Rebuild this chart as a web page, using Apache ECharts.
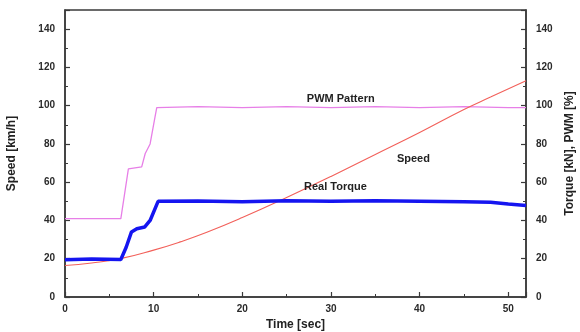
<!DOCTYPE html>
<html>
<head>
<meta charset="utf-8">
<script src="https://cdn.jsdelivr.net/npm/echarts@6/dist/echarts.min.js"></script>
<style>html,body{margin:0;padding:0;background:#fff}#c{width:580px;height:332px}</style>
</head>
<body>
<div id="c"></div>
<script>
// ---- data ----
const pwmTime   = [0, 6.3, 6.4, 7.15, 8.65, 9.05, 9.6, 10.15, 10.35, 15, 20, 25, 30, 35, 40, 45, 50, 52];
const pwmValue  = [41, 41, 42, 67, 68, 75, 80, 94, 99, 99.5, 99, 99.5, 99, 99.5, 99, 99.5, 99, 99];

const torqueTime  = [0, 3, 6.3, 6.9, 7.5, 8.1, 9.0, 9.6, 10.5, 15, 20, 25, 30, 35, 40, 45, 48, 50, 52];
const torqueValue = [19.5, 19.8, 19.6, 26, 34, 35.7, 36.6, 40, 50, 50.2, 49.8, 50.3, 50, 50.3, 50.1, 49.8, 49.5, 48.6, 47.8];

const speedTime  = [0, 3, 6.5, 10, 13, 16, 20, 25, 30, 35, 40, 45, 48, 52];
const speedValue = [16.5, 17.8, 20.3, 24.5, 28.8, 33.8, 41.5, 52, 63, 74.5, 86, 98, 104.5, 113];

const xTicks = [0, 10, 20, 30, 40, 50];
const yTicks = [0, 20, 40, 60, 80, 100, 120, 140];

const seriesNames = ['PWM Pattern', 'Speed', 'Real Torque'];
const xName = 'Time [sec]';
const yLeftName = 'Speed [km/h]';
const yRightName = 'Torque [kN], PWM [%]';

function pairs(t, v) { return t.map((x, i) => [x, v[i]]); }

const font = 'Liberation Sans, Arial, sans-serif';
const axisColor = '#3a3a3a';
const textStyle = { color: '#2a2a2a', fontFamily: font, fontWeight: 'bold', fontSize: 10 };

function yAxis(pos, name) {
  return {
    type: 'value', position: pos, min: 0, max: 150, interval: 20,
    name: name, nameLocation: 'middle', nameGap: pos === 'left' ? 47 : 36,
    nameRotate: 90,
    nameTextStyle: { color: '#222', fontFamily: font, fontWeight: 'bold', fontSize: 12 },
    axisLine: { show: true, lineStyle: { color: axisColor, width: 1.5 } },
    axisTick: { show: true, inside: true, length: 5, lineStyle: { color: axisColor, width: 1.2 } },
    minorTick: { show: true, splitNumber: 2, length: 3, lineStyle: { color: axisColor } },
    axisLabel: Object.assign({ margin: 10, showMaxLabel: false,
      formatter: v => yTicks.includes(v) ? String(v) : '' }, textStyle),
    splitLine: { show: false }
  };
}

const labelStyle = { show: true, position: 'inside', color: '#222', fontFamily: font, fontWeight: 'bold', fontSize: 11,
  formatter: p => p.name };

const option = {
  animation: false,
  backgroundColor: '#fff',
  grid: { left: 65, right: 54, top: 10, bottom: 35, show: true, borderColor: axisColor, borderWidth: 1.5,
    containLabel: false, outerBoundsMode: 'none' },
  xAxis: {
    type: 'value', min: 0, max: 52, interval: 10,
    name: xName, nameLocation: 'middle', nameGap: 21,
    nameTextStyle: { color: '#222', fontFamily: font, fontWeight: 'bold', fontSize: 12 },
    axisLine: { show: true, lineStyle: { color: axisColor, width: 1.5 } },
    axisTick: { show: true, inside: true, length: 5, lineStyle: { color: axisColor, width: 1.2 } },
    minorTick: { show: true, splitNumber: 2, length: 3, lineStyle: { color: axisColor } },
    axisLabel: Object.assign({ margin: 7, showMaxLabel: false,
      formatter: v => xTicks.includes(v) ? String(v) : '' }, textStyle),
    splitLine: { show: false }
  },
  yAxis: [yAxis('left', yLeftName), yAxis('right', yRightName)],
  series: [
    {
      name: seriesNames[0], type: 'line', yAxisIndex: 1, data: pairs(pwmTime, pwmValue),
      showSymbol: false, lineStyle: { color: '#e77fe7', width: 1.3 },
      markPoint: { symbol: 'circle', symbolSize: 0, label: labelStyle,
        data: [{ name: seriesNames[0], coord: [31.1, 103.7] }] }
    },
    {
      name: seriesNames[1], type: 'line', yAxisIndex: 0, data: pairs(speedTime, speedValue),
      showSymbol: false, smooth: 0.5, lineStyle: { color: '#f2605a', width: 1.1 },
      markPoint: { symbol: 'circle', symbolSize: 0, label: labelStyle,
        data: [{ name: seriesNames[1], coord: [39.3, 72.4] }] }
    },
    {
      name: seriesNames[2], type: 'line', yAxisIndex: 1, data: pairs(torqueTime, torqueValue),
      showSymbol: false, lineStyle: { color: '#1515f0', width: 3.5 },
      markPoint: { symbol: 'circle', symbolSize: 0, label: labelStyle,
        data: [{ name: seriesNames[2], coord: [30.5, 57.3] }] }
    }
  ]
};

const chart = echarts.init(document.getElementById('c'), null, { renderer: 'canvas' });
chart.setOption(option);
</script>
</body>
</html>
